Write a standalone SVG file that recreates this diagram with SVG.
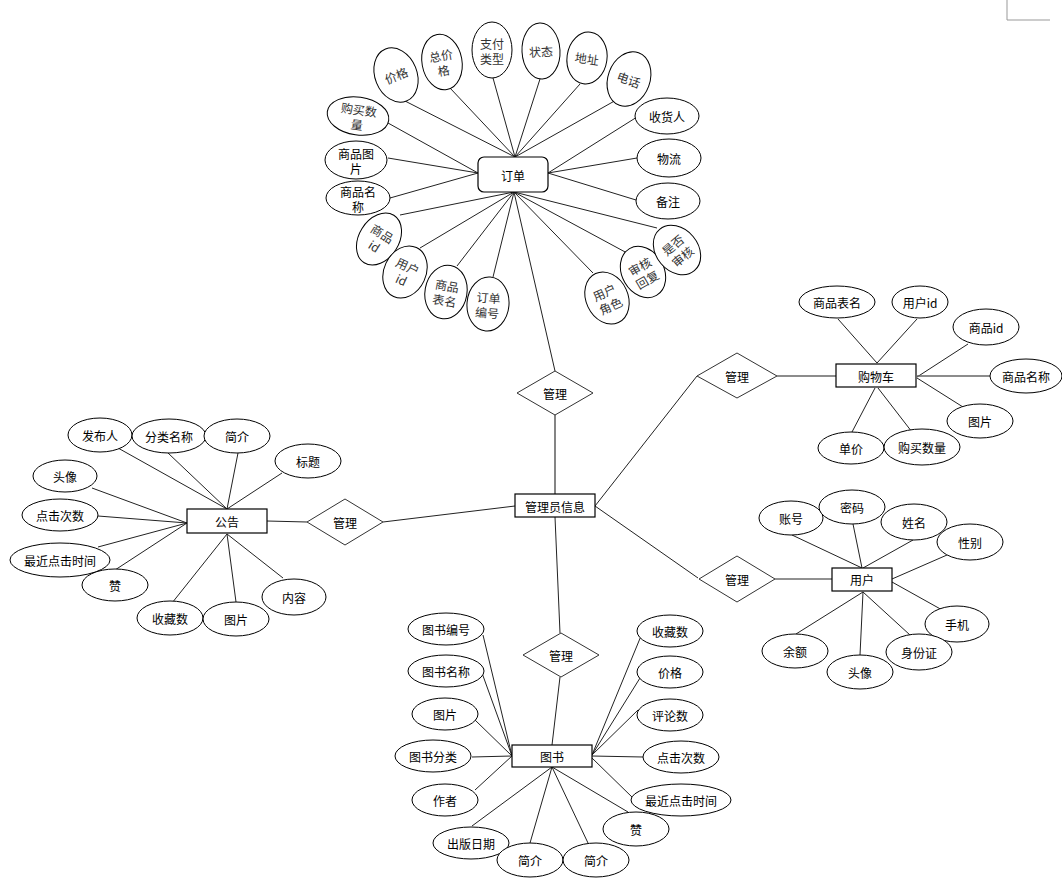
<svg xmlns="http://www.w3.org/2000/svg" width="1062" height="887" viewBox="0 0 1062 887">
<style>
.e{fill:#fff;stroke:#000;stroke-width:1}
.r{fill:#fff;stroke:#000;stroke-width:1.2}
.d{fill:#fff;stroke:#333;stroke-width:1}
.t{font-family:"Noto Sans CJK SC","Liberation Sans",sans-serif;font-size:12px;fill:#000;text-anchor:middle;dominant-baseline:central}
.g{font-family:"Noto Sans CJK SC","Liberation Sans",sans-serif;font-size:12px;fill:#333;text-anchor:middle;dominant-baseline:central}
#connectors line{stroke:#222;stroke-width:1}
#connectors line.k{stroke:#666;stroke-width:1.6}
</style>
<rect width="1062" height="887" fill="#fff"/>
<path d="M1007,0 V20 H1050" fill="none" stroke="#999" stroke-width="1"/>
<g id="connectors">
<line x1="405" y1="101" x2="515" y2="157"/>
<line x1="450" y1="88" x2="515" y2="157"/>
<line x1="493" y1="78" x2="515" y2="157"/>
<line x1="540" y1="79" x2="515" y2="157"/>
<line x1="580" y1="84" x2="515" y2="157"/>
<line x1="618" y1="99" x2="515" y2="157"/>
<line x1="388" y1="123" x2="478" y2="173"/>
<line x1="388" y1="158" x2="478" y2="173"/>
<line x1="390" y1="198" x2="478" y2="173"/>
<line x1="637" y1="117" x2="548" y2="173"/>
<line x1="637" y1="158" x2="548" y2="173"/>
<line x1="636" y1="200" x2="548" y2="173"/>
<line x1="400" y1="215" x2="514" y2="192"/>
<line x1="420" y1="248" x2="514" y2="192"/>
<line x1="457" y1="266" x2="514" y2="192"/>
<line x1="493" y1="277" x2="514" y2="192"/>
<line x1="555" y1="371" x2="514" y2="192"/>
<line x1="593" y1="273" x2="514" y2="192"/>
<line x1="627" y1="253" x2="514" y2="192"/>
<line x1="657" y1="228" x2="514" y2="192"/>
<line class="k" x1="555" y1="415" x2="555" y2="494"/>
<line x1="515" y1="506" x2="383" y2="522"/>
<line x1="595" y1="506" x2="697" y2="376"/>
<line x1="595" y1="506" x2="698" y2="578"/>
<line x1="555" y1="517" x2="560" y2="633"/>
<line class="k" x1="777" y1="376" x2="836" y2="376"/>
<line x1="838" y1="319" x2="877" y2="363"/>
<line x1="917" y1="319" x2="877" y2="363"/>
<line x1="968" y1="344" x2="917" y2="377"/>
<line class="k" x1="990" y1="376" x2="917" y2="376"/>
<line x1="963" y1="407" x2="917" y2="378"/>
<line x1="852" y1="432" x2="875" y2="388"/>
<line x1="912" y1="432" x2="878" y2="388"/>
<line x1="267" y1="521" x2="307" y2="522"/>
<line x1="118" y1="448" x2="227" y2="509"/>
<line x1="168" y1="453" x2="227" y2="509"/>
<line x1="238" y1="453" x2="227" y2="509"/>
<line x1="282" y1="473" x2="227" y2="509"/>
<line x1="92" y1="488" x2="187" y2="523"/>
<line x1="98" y1="516" x2="187" y2="523"/>
<line x1="98" y1="547" x2="187" y2="523"/>
<line x1="115" y1="570" x2="187" y2="523"/>
<line x1="172" y1="603" x2="227" y2="534"/>
<line x1="236" y1="602" x2="227" y2="534"/>
<line x1="283" y1="578" x2="227" y2="534"/>
<line x1="775" y1="579" x2="832" y2="579"/>
<line x1="792" y1="535" x2="862" y2="568"/>
<line x1="853" y1="524" x2="862" y2="568"/>
<line x1="913" y1="540" x2="863" y2="568"/>
<line x1="947" y1="555" x2="892" y2="579"/>
<line x1="944" y1="611" x2="892" y2="582"/>
<line x1="910" y1="635" x2="863" y2="592"/>
<line x1="860" y1="655" x2="863" y2="592"/>
<line x1="796" y1="634" x2="863" y2="592"/>
<line x1="560" y1="677" x2="552" y2="745"/>
<line x1="483" y1="635" x2="512" y2="756"/>
<line x1="482" y1="673" x2="512" y2="756"/>
<line x1="475" y1="720" x2="512" y2="756"/>
<line x1="472" y1="757" x2="512" y2="756"/>
<line x1="475" y1="790" x2="512" y2="756"/>
<line x1="641" y1="636" x2="592" y2="755"/>
<line x1="640" y1="678" x2="592" y2="755"/>
<line x1="638" y1="710" x2="592" y2="755"/>
<line x1="643" y1="757" x2="592" y2="756"/>
<line x1="633" y1="798" x2="592" y2="758"/>
<line x1="472" y1="826" x2="552" y2="767"/>
<line x1="530" y1="843" x2="552" y2="767"/>
<line x1="588" y1="843" x2="552" y2="767"/>
<line x1="628" y1="812" x2="552" y2="767"/>
</g>
<g id="order">
<rect class="r" x="478" y="157" width="70" height="35" rx="6"/>
<text class="t" x="513" y="175">订单</text>
</g>
<g id="o-jiage" transform="translate(396,75) rotate(-22)"><ellipse class="e" rx="21" ry="28"/><text class="g" x="0" y="0">价格</text></g>
<g id="o-zongjiage" transform="translate(442,62) rotate(-10)"><ellipse class="e" rx="20" ry="28"/><text class="g" x="0" y="-7">总价</text><text class="g" x="0" y="8">格</text></g>
<g id="o-zhifu" transform="translate(492,50)"><ellipse class="e" rx="20" ry="28"/><text class="g" x="0" y="-7">支付</text><text class="g" x="0" y="8">类型</text></g>
<g id="o-zhuangtai" transform="translate(541,51) rotate(-3)"><ellipse class="e" rx="19" ry="28"/><text class="g" x="0" y="0">状态</text></g>
<g id="o-dizhi" transform="translate(587,58) rotate(8)"><ellipse class="e" rx="20" ry="26"/><text class="g" x="0" y="0">地址</text></g>
<g id="o-dianhua" transform="translate(629,79) rotate(20)"><ellipse class="e" rx="21" ry="28"/><text class="g" x="0" y="0">电话</text></g>
<g id="o-goumai" transform="translate(358,116) rotate(8)"><ellipse class="e" rx="31" ry="19"/><text class="g" x="0" y="-7">购买数</text><text class="g" x="0" y="8">量</text></g>
<g id="o-tupian" transform="translate(356,160)"><ellipse class="e" rx="31" ry="19"/><text class="t" x="0" y="-7">商品图</text><text class="t" x="0" y="8">片</text></g>
<g id="o-mingcheng" transform="translate(358,198)"><ellipse class="e" rx="32" ry="17"/><text class="t" x="0" y="-7">商品名</text><text class="t" x="0" y="8">称</text></g>
<g id="o-shouhuoren" transform="translate(667,116)"><ellipse class="e" rx="32" ry="18"/><text class="t" x="0" y="0">收货人</text></g>
<g id="o-wuliu" transform="translate(669,158)"><ellipse class="e" rx="32" ry="19"/><text class="t" x="0" y="0">物流</text></g>
<g id="o-beizhu" transform="translate(668,201)"><ellipse class="e" rx="32" ry="18"/><text class="t" x="0" y="0">备注</text></g>
<g id="o-spid" transform="translate(379,239) rotate(32)"><ellipse class="e" rx="20" ry="28"/><text class="g" x="0" y="-7">商品</text><text class="g" x="0" y="8">id</text></g>
<g id="o-yhid" transform="translate(405,272) rotate(25)"><ellipse class="e" rx="21" ry="27"/><text class="g" x="0" y="-7">用户</text><text class="g" x="0" y="8">id</text></g>
<g id="o-spbm" transform="translate(446,292) rotate(10)"><ellipse class="e" rx="21" ry="27"/><text class="g" x="0" y="-7">商品</text><text class="g" x="0" y="8">表名</text></g>
<g id="o-ddbh" transform="translate(488,304) rotate(5)"><ellipse class="e" rx="21" ry="27"/><text class="g" x="0" y="-7">订单</text><text class="g" x="0" y="8">编号</text></g>
<g id="o-yhjs" transform="translate(607,298) rotate(-25)"><ellipse class="e" rx="21" ry="27"/><text class="g" x="0" y="-7">用户</text><text class="g" x="0" y="8">角色</text></g>
<g id="o-shhf" transform="translate(643,272) rotate(-30)"><ellipse class="e" rx="21" ry="27"/><text class="g" x="0" y="-7">审核</text><text class="g" x="0" y="8">回复</text></g>
<g id="o-sfsh" transform="translate(677,250) rotate(-40)"><ellipse class="e" rx="21" ry="27"/><text class="g" x="0" y="-7">是否</text><text class="g" x="0" y="8">审核</text></g>
<g id="rel-order"><polygon class="d" points="555,371 593,393 555,415 517,393"/><text class="t" x="555" y="393">管理</text></g>
<g id="admin"><rect class="r" x="515" y="494" width="80" height="23"/><text class="t" x="555" y="506">管理员信息</text></g>
<g id="rel-cart"><polygon class="d" points="737,353 777,376 737,398 697,376"/><text class="t" x="737" y="376">管理</text></g>
<g id="cart"><rect class="r" x="836" y="364" width="80" height="23"/><text class="t" x="876" y="376">购物车</text></g>
<g id="c-spbm"><ellipse class="e" cx="837" cy="302" rx="38" ry="16"/><text class="t" x="837" y="302">商品表名</text></g>
<g id="c-yhid"><ellipse class="e" cx="920" cy="302" rx="28" ry="16"/><text class="t" x="920" y="302">用户id</text></g>
<g id="c-spid"><ellipse class="e" cx="986" cy="327" rx="33" ry="18"/><text class="t" x="986" y="327">商品id</text></g>
<g id="c-spmc"><ellipse class="e" cx="1026" cy="376" rx="36" ry="17"/><text class="t" x="1026" y="376">商品名称</text></g>
<g id="c-tp"><ellipse class="e" cx="980" cy="421" rx="33" ry="17"/><text class="t" x="980" y="421">图片</text></g>
<g id="c-dj"><ellipse class="e" cx="851" cy="448" rx="33" ry="16"/><text class="t" x="851" y="448">单价</text></g>
<g id="c-gmsl"><ellipse class="e" cx="922" cy="447" rx="38" ry="18"/><text class="t" x="922" y="447">购买数量</text></g>
<g id="rel-notice"><polygon class="d" points="345,499 383,522 345,545 307,522"/><text class="t" x="345" y="522">管理</text></g>
<g id="notice"><rect class="r" x="187" y="509" width="80" height="24"/><text class="t" x="227" y="521">公告</text></g>
<g id="n-fbr"><ellipse class="e" cx="100" cy="435" rx="32" ry="17"/><text class="t" x="100" y="435">发布人</text></g>
<g id="n-flmc"><ellipse class="e" cx="169" cy="436" rx="37" ry="17"/><text class="t" x="169" y="436">分类名称</text></g>
<g id="n-jj"><ellipse class="e" cx="237" cy="436" rx="33" ry="17"/><text class="t" x="237" y="436">简介</text></g>
<g id="n-bt"><ellipse class="e" cx="308" cy="461" rx="33" ry="17"/><text class="t" x="308" y="461">标题</text></g>
<g id="n-tx"><ellipse class="e" cx="65" cy="476" rx="32" ry="16"/><text class="t" x="65" y="476">头像</text></g>
<g id="n-djcs"><ellipse class="e" cx="60" cy="515" rx="38" ry="16"/><text class="t" x="60" y="515">点击次数</text></g>
<g id="n-zjdj"><ellipse class="e" cx="60" cy="560" rx="50" ry="17"/><text class="t" x="60" y="560">最近点击时间</text></g>
<g id="n-zan"><ellipse class="e" cx="115" cy="585" rx="33" ry="16"/><text class="t" x="115" y="585">赞</text></g>
<g id="n-scs"><ellipse class="e" cx="170" cy="618" rx="33" ry="17"/><text class="t" x="170" y="618">收藏数</text></g>
<g id="n-tp"><ellipse class="e" cx="236" cy="619" rx="33" ry="17"/><text class="t" x="236" y="619">图片</text></g>
<g id="n-nr"><ellipse class="e" cx="294" cy="597" rx="32" ry="18"/><text class="t" x="294" y="597">内容</text></g>
<g id="rel-user"><polygon class="d" points="737,556 775,579 737,602 699,579"/><text class="t" x="737" y="579">管理</text></g>
<g id="user"><rect class="r" x="832" y="568" width="60" height="23"/><text class="t" x="862" y="579">用户</text></g>
<g id="u-zh"><ellipse class="e" cx="791" cy="518" rx="32" ry="17"/><text class="t" x="791" y="518">账号</text></g>
<g id="u-mm"><ellipse class="e" cx="852" cy="507" rx="33" ry="17"/><text class="t" x="852" y="507">密码</text></g>
<g id="u-xm"><ellipse class="e" cx="914" cy="522" rx="33" ry="18"/><text class="t" x="914" y="522">姓名</text></g>
<g id="u-xb"><ellipse class="e" cx="970" cy="542" rx="33" ry="18"/><text class="t" x="970" y="542">性别</text></g>
<g id="u-sj"><ellipse class="e" cx="957" cy="624" rx="32" ry="18"/><text class="t" x="957" y="624">手机</text></g>
<g id="u-sfz"><ellipse class="e" cx="919" cy="652" rx="33" ry="18"/><text class="t" x="919" y="652">身份证</text></g>
<g id="u-tx"><ellipse class="e" cx="860" cy="672" rx="33" ry="17"/><text class="t" x="860" y="672">头像</text></g>
<g id="u-ye"><ellipse class="e" cx="795" cy="651" rx="33" ry="17"/><text class="t" x="795" y="651">余额</text></g>
<g id="rel-book"><polygon class="d" points="561,633 599,655 561,677 523,655"/><text class="t" x="561" y="655">管理</text></g>
<g id="book"><rect class="r" x="512" y="745" width="80" height="22"/><text class="t" x="552" y="756">图书</text></g>
<g id="b-tsbh"><ellipse class="e" cx="446" cy="629" rx="38" ry="16"/><text class="t" x="446" y="629">图书编号</text></g>
<g id="b-tsmc"><ellipse class="e" cx="446" cy="671" rx="38" ry="16"/><text class="t" x="446" y="671">图书名称</text></g>
<g id="b-tp"><ellipse class="e" cx="445" cy="714" rx="33" ry="16"/><text class="t" x="445" y="714">图片</text></g>
<g id="b-tsfl"><ellipse class="e" cx="433" cy="756" rx="38" ry="16"/><text class="t" x="433" y="756">图书分类</text></g>
<g id="b-zz"><ellipse class="e" cx="445" cy="800" rx="33" ry="16"/><text class="t" x="445" y="800">作者</text></g>
<g id="b-cbrq"><ellipse class="e" cx="471" cy="843" rx="38" ry="16"/><text class="t" x="471" y="843">出版日期</text></g>
<g id="b-jj1"><ellipse class="e" cx="530" cy="860" rx="33" ry="17"/><text class="t" x="530" y="860">简介</text></g>
<g id="b-jj2"><ellipse class="e" cx="596" cy="860" rx="33" ry="17"/><text class="t" x="596" y="860">简介</text></g>
<g id="b-zan"><ellipse class="e" cx="636" cy="829" rx="33" ry="17"/><text class="t" x="636" y="829">赞</text></g>
<g id="b-zjdj"><ellipse class="e" cx="681" cy="800" rx="50" ry="16"/><text class="t" x="681" y="800">最近点击时间</text></g>
<g id="b-djcs"><ellipse class="e" cx="681" cy="757" rx="38" ry="16"/><text class="t" x="681" y="757">点击次数</text></g>
<g id="b-pls"><ellipse class="e" cx="670" cy="715" rx="33" ry="16"/><text class="t" x="670" y="715">评论数</text></g>
<g id="b-jg"><ellipse class="e" cx="670" cy="672" rx="33" ry="16"/><text class="t" x="670" y="672">价格</text></g>
<g id="b-scs"><ellipse class="e" cx="670" cy="631" rx="33" ry="16"/><text class="t" x="670" y="631">收藏数</text></g>
</svg>
